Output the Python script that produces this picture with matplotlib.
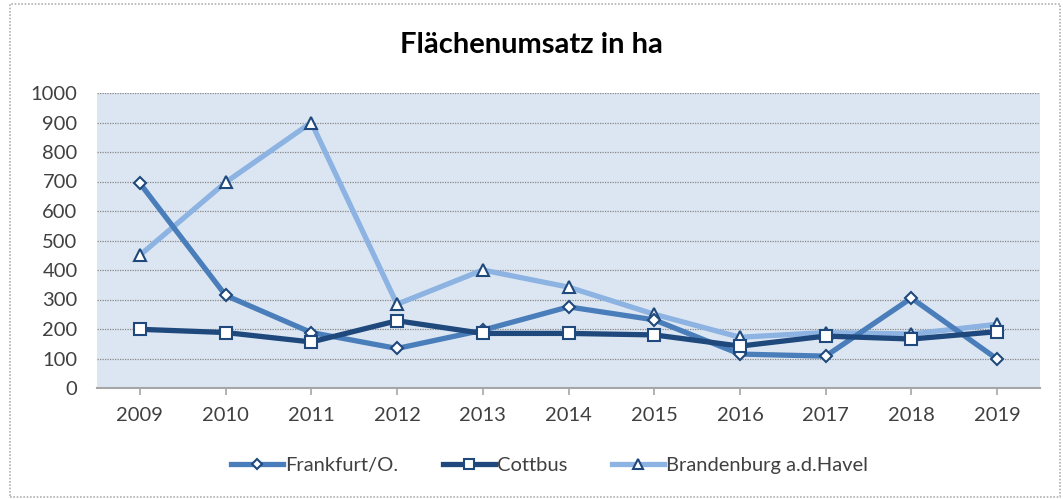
import numpy as np
import matplotlib.pyplot as plt
from matplotlib.patches import Rectangle

years = ["2009", "2010", "2011", "2012", "2013", "2014", "2015", "2016", "2017", "2018", "2019"]
frankfurt = [694, 314, 188, 134, 196, 275, 231, 115, 108, 305, 98]
cottbus = [199, 188, 156, 228, 185, 185, 180, 142, 176, 166, 191]
brandenburg = [450, 697, 900, 284, 400, 342, 250, 172, 188, 183, 216]

plt.rcParams['font.family'] = ['Lato', 'DejaVu Sans']

def draw_chart():
    fig = plt.figure(figsize=(10.63, 4.99), dpi=100)
    ax = fig.add_axes([97 / 1063, 1 - 388 / 499, 943 / 1063, 295 / 499])
    ax.set_facecolor("#dce6f2")
    x = np.arange(len(years))

    edge = "#1f497d"
    ax.plot(x, frankfurt, color="#4a7ebb", lw=3.8, marker="D", ms=6.5,
            mfc="white", mec=edge, mew=1.5, label="Frankfurt/O.", zorder=3)
    ax.plot(x, cottbus, color="#1f497d", lw=3.8, marker="s", ms=9,
            mfc="white", mec=edge, mew=1.5, label="Cottbus", zorder=4)
    ax.plot(x, brandenburg, color="#8db3e2", lw=3.8, marker="^", ms=8.5,
            mfc="white", mec=edge, mew=1.5, label="Brandenburg a.d.Havel", zorder=2)

    ax.set_xlim(-0.5, len(years) - 0.5)
    ax.set_ylim(0, 1000)
    ax.set_yticks(range(0, 1001, 100))
    ax.set_xticks(x)
    ax.set_xticklabels(years)
    ax.grid(axis="y", color="#888888", linestyle=(0, (1, 1)), lw=0.9)
    ax.set_axisbelow(True)

    for s in ["top", "right", "left"]:
        ax.spines[s].set_visible(False)
    ax.spines["bottom"].set_color("#a6a6a6")
    ax.spines["bottom"].set_linewidth(1.5)
    ax.tick_params(axis="y", length=0, labelsize=14.5, labelcolor="#404040", pad=14)
    ax.tick_params(axis="x", length=5, color="#a6a6a6", width=1.2,
                   labelsize=14.5, labelcolor="#404040", pad=9)

    fig.text(0.5, 1 - 45 / 499, "Flächenumsatz in ha", ha="center", va="center",
             fontsize=21, fontweight="bold", color="black")

    fig.legend(loc="center", bbox_to_anchor=(0.517, 1 - 465 / 499), ncol=3,
               frameon=False, fontsize=14.5, handlelength=2.6, handletextpad=0.1,
               columnspacing=2.2, labelcolor="#404040", markerscale=0.8)

    fig.patches.append(Rectangle((10 / 1063, 2 / 499), 1050 / 1063, 493 / 499,
                                 transform=fig.transFigure, fill=False,
                                 edgecolor="#b0b0b0", lw=1.2, linestyle=(0, (1, 1))))
    fig.savefig("out.png", dpi=100)


if __name__ == "__main__":
    draw_chart()
